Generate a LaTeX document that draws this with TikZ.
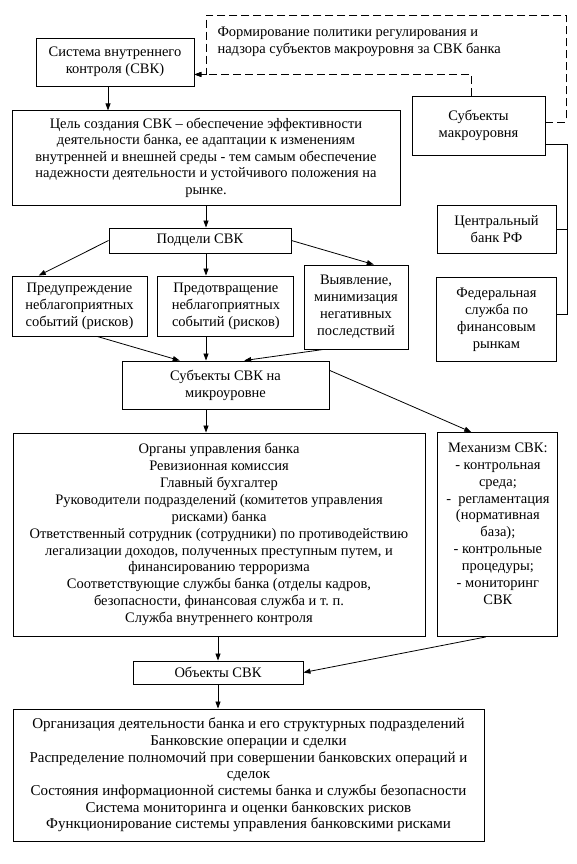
\documentclass[tikz,border=0pt]{standalone}
\usepackage{fontspec}
\setmainfont{Liberation Serif}
\usetikzlibrary{positioning, arrows.meta, calc}

\begin{document}
\begin{tikzpicture}[x=1pt, y=-1pt, font=\fontsize{14.5}{16.9}\selectfont,
  box/.style={draw, line width=0.9pt, align=center, inner sep=2pt},
  arrow/.style={-{Triangle[length=7pt, width=5pt]}, line width=0.8pt},
  dashline/.style={dash pattern=on 8pt off 4pt, line width=0.8pt}]
\useasboundingbox (0,0) rectangle (576,864);
% upper part
\node[box, minimum width=158pt, minimum height=48pt] (svk) at (115,62) {Система внутреннего\\контроля (СВК)};
\node[anchor=west, align=left] (formir) at (214,41.5) {Формирование политики регулирования и\\надзора субъектов макроуровня за СВК банка};
\node[box, minimum width=133pt, minimum height=59pt] (makro) at (478.5,125.5) {Субъекты\\макроуровня};
\node[box, minimum width=388pt, minimum height=95pt, font=\fontsize{14.5}{16.5}\selectfont] (cel) at (206,157.5) {Цель создания СВК -- обеспечение эффективности\\деятельности банка, ее адаптации к изменениям\\внутренней и внешней среды - тем самым обеспечение\\надежности деятельности и устойчивого положения на\\рынке.};
\node[box, minimum width=182pt, minimum height=25pt] (podceli) at (200,240.5) {Подцели СВК};
\node[box, minimum width=119pt, minimum height=48pt] (cb) at (496.5,229) {Центральный\\банк РФ};
\node[box, minimum width=120pt, minimum height=84pt, below=24pt of cb] (fed) {Федеральная\\служба по\\финансовым\\рынкам};
% subgoals
\node[box, minimum width=135pt, minimum height=60pt] (pred1) at (79.5,306) {Предупреждение\\неблагоприятных\\событий (рисков)};
\node[box, minimum width=136pt, minimum height=60pt, right=10pt of pred1] (pred2) {Предотвращение\\неблагоприятных\\событий (рисков)};
\node[box, minimum width=104pt, minimum height=84pt] (vyyav) at (356,307) {Выявление,\\минимизация\\негативных\\последствий};
\node[box, minimum width=207pt, minimum height=48pt] (subsvk) at (225.5,385) {Субъекты СВК на\\микроуровне};
% lower part
\node[box, minimum width=412pt, minimum height=203pt] (organy) at (219,534.5) {Органы управления банка\\Ревизионная комиссия\\Главный бухгалтер\\Руководители подразделений (комитетов управления\\рисками) банка\\Ответственный сотрудник (сотрудники) по противодействию\\легализации доходов, полученных преступным путем, и\\финансированию терроризма\\Соответствующие службы банка (отделы кадров,\\безопасности, финансовая служба и т.~п.\\Служба внутреннего контроля};
\node[box, minimum width=120pt, minimum height=204pt, right=12pt of organy] (mekh) {Механизм СВК:\\- контрольная\\среда;\\-~~регламентация\\(нормативная\\база);\\- контрольные\\процедуры;\\- мониторинг\\СВК\\[5pt]\mbox{}};
\node[box, minimum width=170pt, minimum height=23pt] (obekty) at (218,672.5) {Объекты СВК};
\node[box, minimum width=471pt, minimum height=132pt, font=\fontsize{15}{16.7}\selectfont] (spisok) at (248.5,775) {Организация деятельности банка и его структурных подразделений\\Банковские операции и сделки\\Распределение полномочий при совершении банковских операций и\\сделок\\Состояния информационной системы банка и службы безопасности\\Система мониторинга и оценки банковских рисков\\Функционирование системы управления банковскими рисками};
% dashed feedback
\coordinate (vhod) at ($(svk.south east)+(0,-12)$);
\coordinate (verh1) at (566,15);
\coordinate (verh2) at (206,15);
\draw[dashline, arrow] ($(makro.north east)!0.44!(makro.south east)$) -| (verh1) -- (verh2) -- (verh2 |- vhod) -- (vhod);
\draw[dashline, arrow] ($(makro.north west)!0.45!(makro.north east)$) |- (vhod);
% bracket to regulators
\coordinate (shina) at ($(cb.east)+(11,0)$);
\draw[line width=0.8pt] ($(makro.north east)!0.81!(makro.south east)$) -| ($(fed.east)+(10,-6)$) -- ($(fed.east)+(0,-6)$);
\draw[line width=0.8pt] (cb.east) -- (shina);
% arrows
\draw[arrow] ([xshift=-7pt]svk.south) -- ++(0,24);
\draw[arrow] (cel.south) -- (cel.south |- podceli.north);
\draw[arrow] (podceli.west) -- ($(pred1.north west)!0.2!(pred1.north east)$);
\draw[arrow] (podceli.south -| cel.south) -- (cel.south |- pred2.north);
\draw[arrow] (podceli.east) -- ($(vyyav.north west)!0.67!(vyyav.north east)$);
\draw[arrow] ($(pred1.south west)!0.63!(pred1.south east)$) -- ($(subsvk.north west)!0.28!(subsvk.north east)$);
\draw[arrow] (pred2.south -| cel.south) -- (cel.south |- subsvk.north);
\draw[arrow] ($(vyyav.south west)!0.19!(vyyav.south east)$) -- ($(subsvk.north west)!0.59!(subsvk.north east)$);
\draw[arrow] (subsvk.south -| cel.south) -- (cel.south |- organy.north);
\draw[arrow] ($(subsvk.north east)!0.2!(subsvk.south east)$) -- ($(mekh.north west)!0.28!(mekh.north east)$);
\draw[arrow] (organy.south -| obekty.north) -- (obekty.north);
\draw[arrow] ($(mekh.south west)!0.4!(mekh.south east)$) -- (obekty.east);
\draw[arrow] (obekty.south) -- (obekty.south |- spisok.north);
\end{tikzpicture}
\end{document}
